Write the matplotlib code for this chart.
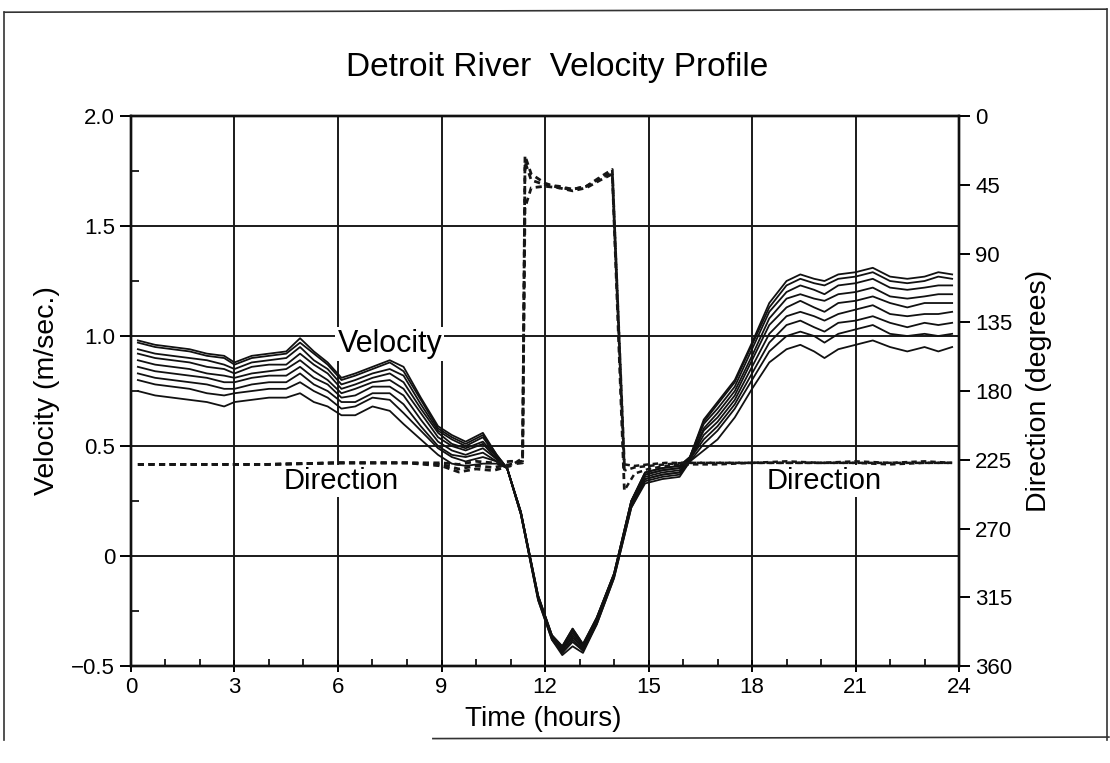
import matplotlib
matplotlib.use('Agg')
from matplotlib import pyplot as plt
from matplotlib.lines import Line2D
from matplotlib.ticker import MultipleLocator

plt.rcParams['font.family'] = ['Liberation Sans', 'DejaVu Sans']

# Time of each velocity reading (hours)
hours = [0.2, 0.7, 1.2, 1.7, 2.2, 2.7, 3.0, 3.5, 4.0, 4.5, 4.9, 5.3, 5.7, 6.1, 6.5,
         7.0, 7.5, 7.9, 8.4, 8.9, 9.3, 9.7, 10.2, 10.6, 10.9, 11.3, 11.8, 12.2, 12.5,
         12.8, 13.1, 13.5, 14.0, 14.5, 14.9, 15.4, 15.9, 16.2, 16.6, 17.0, 17.5, 18.0,
         18.5, 19.0, 19.4, 19.8, 20.1, 20.5, 21.0, 21.5, 22.0, 22.5, 23.0, 23.4, 23.8]

# Velocity (m/sec.) at each depth, top to bottom
vel_1 = [.98, .96, .95, .94, .92, .91, .88, .91, .92, .93, .99, .93, .88, .81, .83,
         .86, .89, .86, .72, .59, .55, .52, .56, .46, .40, .20, -.18, -.36, -.41,
         -.33, -.40, -.28, -.08, .25, .38, .40, .41, .45, .62, .70, .80, .97,
         1.15, 1.25, 1.28, 1.26, 1.25, 1.28, 1.29, 1.31, 1.27, 1.26, 1.27, 1.29, 1.28]
vel_2 = [.97, .95, .94, .93, .91, .90, .87, .90, .91, .92, .97, .92, .87, .80, .82,
         .85, .88, .84, .71, .58, .54, .51, .55, .46, .40, .20, -.18, -.36, -.41,
         -.33, -.40, -.28, -.08, .25, .38, .40, .41, .45, .61, .69, .79, .96,
         1.13, 1.23, 1.26, 1.24, 1.23, 1.26, 1.27, 1.29, 1.25, 1.24, 1.25, 1.27, 1.26]
vel_3 = [.94, .92, .91, .90, .89, .87, .85, .88, .89, .90, .95, .89, .85, .78, .80,
         .83, .85, .82, .69, .57, .53, .50, .54, .45, .40, .20, -.18, -.36, -.42,
         -.34, -.41, -.28, -.08, .25, .37, .39, .40, .45, .60, .67, .77, .94,
         1.11, 1.20, 1.23, 1.21, 1.19, 1.23, 1.24, 1.26, 1.22, 1.21, 1.22, 1.23, 1.23]
vel_4 = [.92, .90, .89, .88, .86, .85, .83, .86, .87, .87, .92, .87, .83, .76, .78,
         .81, .83, .79, .67, .56, .51, .49, .52, .45, .40, .20, -.19, -.37, -.42,
         -.35, -.41, -.29, -.09, .24, .37, .39, .40, .44, .58, .65, .75, .91,
         1.08, 1.17, 1.19, 1.17, 1.16, 1.19, 1.20, 1.22, 1.18, 1.17, 1.18, 1.19, 1.19]
vel_5 = [.89, .87, .86, .85, .83, .82, .81, .83, .84, .85, .89, .84, .80, .74, .76,
         .79, .80, .76, .65, .54, .50, .48, .51, .44, .40, .20, -.19, -.37, -.43,
         -.36, -.42, -.29, -.09, .24, .36, .38, .39, .44, .57, .63, .73, .89,
         1.05, 1.13, 1.16, 1.13, 1.11, 1.15, 1.16, 1.18, 1.15, 1.13, 1.15, 1.15, 1.15]
vel_6 = [.86, .84, .83, .82, .81, .79, .79, .81, .82, .82, .86, .81, .78, .72, .73,
         .77, .77, .73, .62, .52, .48, .46, .49, .44, .40, .19, -.19, -.37, -.43,
         -.37, -.42, -.30, -.09, .23, .35, .37, .38, .44, .55, .61, .71, .86,
         1.01, 1.09, 1.11, 1.09, 1.07, 1.10, 1.12, 1.14, 1.10, 1.09, 1.10, 1.10, 1.11]
vel_7 = [.83, .81, .80, .79, .78, .76, .76, .78, .79, .79, .83, .78, .75, .70, .70,
         .74, .74, .69, .59, .50, .46, .45, .47, .43, .40, .19, -.19, -.37, -.44,
         -.38, -.43, -.30, -.09, .23, .35, .37, .38, .44, .53, .59, .69, .83,
         .97, 1.05, 1.07, 1.04, 1.02, 1.06, 1.07, 1.09, 1.06, 1.04, 1.06, 1.05, 1.06]
vel_8 = [.80, .78, .77, .76, .74, .73, .74, .75, .76, .76, .79, .75, .72, .67, .68,
         .72, .71, .65, .57, .49, .45, .43, .45, .43, .40, .19, -.20, -.38, -.44,
         -.39, -.43, -.31, -.10, .22, .34, .36, .37, .43, .51, .57, .67, .80,
         .93, 1.00, 1.02, 1.00, .97, 1.01, 1.03, 1.05, 1.01, 1.00, 1.01, 1.00, 1.01]
vel_9 = [.75, .73, .72, .71, .70, .68, .70, .71, .72, .72, .74, .70, .68, .64, .64,
         .68, .66, .60, .53, .46, .42, .41, .42, .42, .40, .19, -.20, -.38, -.45,
         -.41, -.44, -.31, -.10, .22, .33, .35, .36, .43, .48, .53, .63, .76,
         .88, .94, .96, .93, .90, .94, .96, .98, .95, .93, .95, .93, .95]
velocity_series = [vel_1, vel_2, vel_3, vel_4, vel_5, vel_6, vel_7, vel_8, vel_9]

# Flow direction (degrees)
dir_hours = [0.2, 2.0, 4.0, 6.0, 8.0, 9.0, 9.5, 10.0, 10.5, 11.0, 11.35, 11.42, 11.6,
             12.0, 12.4, 12.8, 13.2, 13.6, 13.95, 14.3, 14.6, 15.0, 15.5, 16.0, 17.0,
             18.0, 19.0, 20.0, 21.0, 22.0, 23.0, 23.8]
dir_a = [228, 228, 228, 227, 227, 227, 228, 226, 227, 226, 226, 30, 42, 45, 46, 48,
         46, 41, 37, 228, 229, 228, 227, 227, 227, 227, 227, 227, 227, 228, 227, 227]
dir_b = [228, 228, 228, 227, 227, 228, 231, 229, 230, 228, 227, 26, 38, 44, 47, 48,
         46, 40, 35, 232, 230, 229, 228, 227, 227, 227, 226, 227, 227, 227, 227, 227]
dir_c = [228, 228, 228, 227, 227, 229, 233, 231, 232, 229, 224, 60, 47, 46, 47, 49,
         47, 42, 38, 245, 234, 231, 229, 228, 228, 227, 227, 227, 226, 227, 226, 227]
direction_series = [dir_a, dir_b, dir_c]
split = 19  # index of 14.3 h: after the reversal the records overlap into one band

fig = plt.figure(figsize=(11.1, 7.63), dpi=100)
ax = fig.add_axes([0.118, 0.127, 0.746, 0.721])

for v in velocity_series:
    ax.plot(hours, v, color='#111111', linewidth=1.3, zorder=3)

ax.set_xlim(0, 24)
ax.set_ylim(-0.5, 2.0)
ax.set_xticks(range(0, 25, 3))
ax.xaxis.set_minor_locator(MultipleLocator(1))
ax.set_yticks([-0.5, 0, 0.5, 1.0, 1.5, 2.0])
ax.set_yticklabels(['\u22120.5', '0', '0.5', '1.0', '1.5', '2.0'])
ax.yaxis.set_minor_locator(MultipleLocator(0.25))
ax.set_axisbelow(True)
ax.grid(True, which='major', color='#1a1a1a', linewidth=1.4)

ax.tick_params(axis='x', which='major', direction='inout', length=8, width=1.4,
               labelsize=16, pad=4)
ax.tick_params(axis='x', which='minor', direction='in', length=5, width=1.2)
ax.tick_params(axis='y', which='major', direction='out', length=8, width=1.4,
               labelsize=16)
ax.tick_params(axis='y', which='minor', direction='in', length=6, width=1.2)
for s in ax.spines.values():
    s.set_linewidth(1.7)
    s.set_color('#111111')

ax.set_ylabel('Velocity (m/sec.)', fontsize=20.5, labelpad=8)

ax2 = ax.twinx()
for i, d in enumerate(direction_series):
    ax2.plot(dir_hours[:split + 1], d[:split + 1], color='#161616', linewidth=2.0,
             linestyle=(0, (2.2, 1.6)), zorder=3)
    ax2.plot(dir_hours[split:], d[split:], color='#161616', linewidth=1.8,
             linestyle=(i * 1.3, (2.2, 1.6)), zorder=3)
ax2.set_ylim(360, 0)
ax2.set_yticks(range(0, 361, 45))
ax2.tick_params(axis='y', direction='out', length=8, width=1.4, labelsize=16)
ax2.set_ylabel('Direction (degrees)', fontsize=20.5, labelpad=10)
for s in ax2.spines.values():
    s.set_linewidth(1.7)
    s.set_color('#111111')

box = dict(facecolor='white', edgecolor='none', pad=1.5)
ax.text(7.5, 0.965, 'Velocity', fontsize=22, ha='center', va='center', bbox=box, zorder=2.5)
ax.text(6.1, 0.34, 'Direction', fontsize=21, ha='center', va='center', bbox=box, zorder=2.5)
ax.text(20.1, 0.34, 'Direction', fontsize=21, ha='center', va='center', bbox=box, zorder=2.5)

fig.text(0.502, 0.911, 'Detroit River  Velocity Profile', fontsize=24,
         ha='center', va='center')
fig.text(0.489, 0.058, 'Time (hours)', fontsize=20, ha='center', va='center')

# page border from the scan
for xs, ys in [([0.004, 0.997], [0.984, 0.988]), ([0.004, 0.004], [0.984, 0.03]),
               ([0.997, 0.997], [0.988, 0.03]), ([0.39, 0.999], [0.032, 0.034])]:
    fig.add_artist(Line2D(xs, ys, color='#333333', linewidth=1.2,
                          transform=fig.transFigure))

fig.savefig('out.png', dpi=100)
